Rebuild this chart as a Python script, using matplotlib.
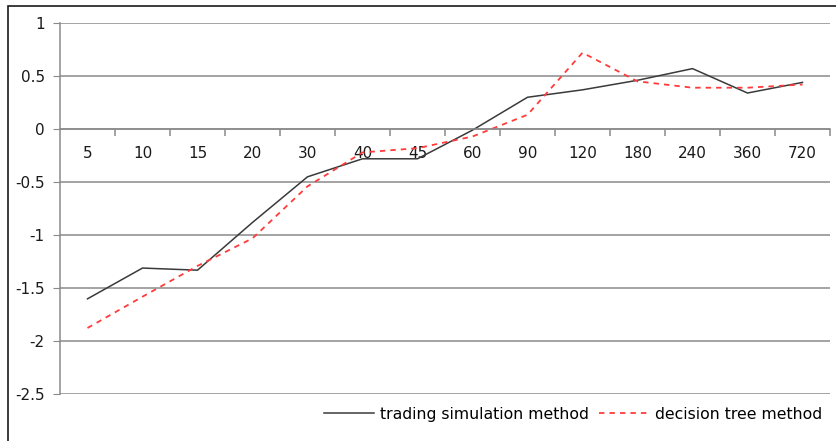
import matplotlib
matplotlib.use("Agg")
import matplotlib.pyplot as plt
from matplotlib.patches import Rectangle
import numpy as np

categories = ["5", "10", "15", "20", "30", "40", "45", "60", "90", "120", "180", "240", "360", "720"]
trading_simulation = [-1.60, -1.31, -1.33, -0.88, -0.45, -0.28, -0.28, -0.01, 0.30, 0.37, 0.46, 0.57, 0.34, 0.44]
decision_tree = [-1.875, -1.58, -1.29, -1.03, -0.54, -0.22, -0.18, -0.07, 0.135, 0.72, 0.45, 0.39, 0.39, 0.42]
y_ticks = [1, 0.5, 0, -0.5, -1, -1.5, -2, -2.5]
y_tick_labels = ["1", "0.5", "0", "-0.5", "-1", "-1.5", "-2", "-2.5"]

plt.rcParams["font.family"] = ["DejaVu Sans"]
W, H = 837, 441
fig = plt.figure(figsize=(W / 100, H / 100), dpi=100)

# outer chart frame (extends past the right and bottom edges)
fig.patches.append(Rectangle((8 / W, -0.1), 1.2, (H - 6) / H + 0.1, transform=fig.transFigure,
                             fill=False, edgecolor="#1a1a1a", linewidth=1.2))

left, right = 60 / W, 830 / W
top_px, bot_px = 23, 394.3
ax = fig.add_axes([left, (H - bot_px) / H, right - left, (bot_px - top_px) / H])

x = np.arange(len(categories))
ax.plot(x, trading_simulation, color="#3a3a3a", linewidth=1.1, label="trading simulation method")
ax.plot(x, decision_tree, color="#ff3b3b", linewidth=1.3, linestyle=(0, (3, 2.8)),
        label="decision tree method")

ax.set_xlim(-0.5, len(categories) - 0.5)
ax.set_ylim(-2.5, 1)

ax.set_yticks(y_ticks)
ax.set_yticklabels(y_tick_labels, fontsize=11, color="#1a1a1a")
ax.yaxis.grid(True, color="#8a8a8a", linewidth=1.1)
ax.set_axisbelow(True)
ax.tick_params(axis="y", length=5, color="#8a8a8a", pad=6)

# category axis sits on y = 0
for s in ["top", "right"]:
    ax.spines[s].set_visible(False)
ax.spines["left"].set_color("#8a8a8a")
ax.spines["left"].set_linewidth(1.1)
ax.spines["bottom"].set_position(("data", 0))
ax.spines["bottom"].set_color("#8a8a8a")
ax.spines["bottom"].set_linewidth(1.1)

ax.set_xticks(x)
ax.set_xticklabels(categories, fontsize=11, color="#1a1a1a")
ax.tick_params(axis="x", which="major", length=0, pad=12.5)
ax.set_xticks(np.arange(0.5, len(categories) - 0.4, 1), minor=True)
ax.tick_params(axis="x", which="minor", length=5, color="#8a8a8a", width=1.1)

leg = ax.legend(loc="upper right", bbox_to_anchor=(0.99, -0.033), ncol=2, frameon=False,
                fontsize=11.3, handlelength=3.2, handletextpad=0.4, columnspacing=0.6,
                borderaxespad=0, borderpad=0)

fig.savefig("out.png", dpi=100)
